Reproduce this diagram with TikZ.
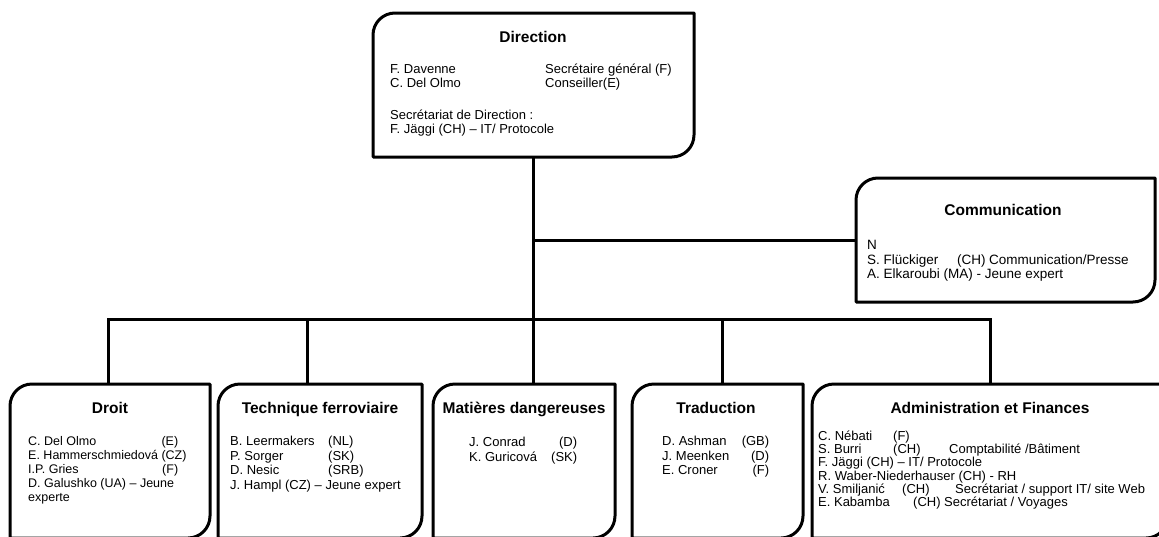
\documentclass[tikz,border=0pt]{standalone}
\usepackage{fontspec}
\setmainfont{Liberation Sans}
\tikzset{
 area/.style={draw=none,inner sep=0pt,outer sep=0pt},
 boxline/.style={line width=3pt,line join=round},
 conn/.style={line width=3pt},
 ttl/.style={inner sep=0pt,anchor=base,font=\bfseries\fontsize{15.5}{18}\selectfont},
 txt/.style={inner sep=0pt,anchor=base west,font=\fontsize{13}{14.5}\selectfont},
}
\newcommand{\dgbox}[2]{\draw[boxline] (#1.north east) -- ([yshift=#2]#1.south east) arc[start angle=0,end angle=-90,radius=#2] -- (#1.south west) -- ([yshift=-#2]#1.north west) arc[start angle=180,end angle=90,radius=#2] -- cycle;}
\begin{document}
\begin{tikzpicture}[x=1pt,y=-1pt]
\clip (0,0) rectangle (1159,536);
% boxes
\node[area,minimum width=321pt,minimum height=144pt] (dir) at (533.5,85) {};
\node[area,minimum width=299pt,minimum height=124pt] (comm) at (1005.5,240) {};
\node[area,minimum width=200pt,minimum height=154pt] (droit) at (110,461) {};
\node[area,minimum width=204pt,minimum height=154pt] (tech) at (320,461) {};
\node[area,minimum width=182pt,minimum height=154pt] (mat) at (524,461) {};
\node[area,minimum width=171pt,minimum height=154pt] (trad) at (717.5,461) {};
\node[area,minimum width=356pt,minimum height=154pt] (adm) at (990,461) {};
\dgbox{dir}{22pt}
\dgbox{comm}{22pt}
\dgbox{droit}{22pt}
\dgbox{tech}{22pt}
\dgbox{mat}{22pt}
\dgbox{trad}{22pt}
\dgbox{adm}{22pt}
% connectors
\coordinate (bus) at (533.5,319);
\draw[conn] (dir.south) -- (dir.south |- mat.north);
\draw[conn] (dir.south |- comm.west) -- (comm.west);
\draw[conn] ([xshift=-2pt]droit.north) -- ([xshift=-2pt]droit.north |- bus) -- (adm.north |- bus) -- (adm.north);
\draw[conn] ([xshift=-13pt]tech.north |- bus) -- ([xshift=-13pt]tech.north);
\draw[conn] ([xshift=4.5pt]trad.north |- bus) -- ([xshift=4.5pt]trad.north);
% texts
\node[ttl] (dirT) at (533,42.5) {Direction};
\node[txt,font=\fontsize{13}{14}\selectfont] (dirB) at (390,73.5) {\begin{tabular}[t]{@{}l@{}}\makebox[155pt][l]{F. Davenne}Secrétaire général (F)\\ \makebox[155pt][l]{C. Del Olmo}Conseiller(E)\\[18pt] Secrétariat de Direction :\\ F. Jäggi (CH) – IT/ Protocole\end{tabular}};
\node[ttl] (comT) at (1003,215.5) {Communication};
\node[txt,font=\fontsize{13.5}{14.5}\selectfont] (comB) at (867,249.5) {\begin{tabular}[t]{@{}l@{}}N\\ \makebox[90pt][l]{S. Flückiger}\makebox[32pt][l]{(CH)}Communication/Presse\\ A. Elkaroubi (MA) - Jeune expert\end{tabular}};
\node[ttl] (droitT) at (110,413.5) {Droit};
\node[txt,font=\fontsize{12.5}{14}\selectfont] (droitB) at (28,445.5) {\begin{tabular}[t]{@{}l@{}}\makebox[150pt]{C. Del Olmo\hfill(E)}\\ E. Hammerschmiedová (CZ)\\ \makebox[150pt]{I.P. Gries\hfill(F)}\\ D. Galushko (UA) – Jeune\\ experte\end{tabular}};
\node[ttl] (techT) at (320,413.5) {Technique ferroviaire};
\node[txt] (techB) at (230,445.5) {\begin{tabular}[t]{@{}l@{}}\makebox[98pt][l]{B. Leermakers}(NL)\\ \makebox[98pt][l]{P. Sorger}(SK)\\ \makebox[98pt][l]{D. Nesic}(SRB)\\ J. Hampl (CZ) – Jeune expert\end{tabular}};
\node[ttl] (matT) at (524,413.5) {Matières dangereuses};
\node[txt,font=\fontsize{13}{15}\selectfont] (matB) at (469,446) {\begin{tabular}[t]{@{}l@{}}\makebox[108pt]{J. Conrad\hfill(D)}\\ \makebox[108pt]{K. Guricová\hfill(SK)}\end{tabular}};
\node[ttl] (tradT) at (716,413.5) {Traduction};
\node[txt] (tradB) at (662,445.5) {\begin{tabular}[t]{@{}l@{}}\makebox[107pt]{D. Ashman\hfill(GB)}\\ \makebox[107pt]{J. Meenken\hfill(D)}\\ \makebox[107pt]{E. Croner\hfill(F)}\end{tabular}};
\node[ttl] (admT) at (990,413.5) {Administration et Finances};
\node[txt,font=\fontsize{13}{12.5}\selectfont] (admB) at (818,440.5) {\begin{tabular}[t]{@{}l@{}}\makebox[75pt][l]{C. Nébati}(F)\\ \makebox[75pt][l]{S. Burri}\makebox[56pt][l]{(CH)}Comptabilité /Bâtiment\\ F. Jäggi (CH) – IT/ Protocole\\ R. Waber-Niederhauser (CH) - RH\\ \makebox[84pt][l]{V. Smiljanić}\makebox[53pt][l]{(CH)}Secrétariat / support IT/ site Web\\ \makebox[95pt][l]{E. Kabamba}\makebox[31pt][l]{(CH)}Secrétariat / Voyages\end{tabular}};
\end{tikzpicture}
\end{document}
